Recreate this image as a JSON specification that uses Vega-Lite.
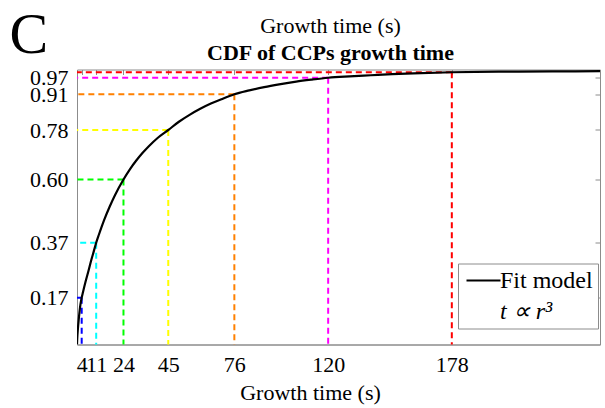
{
  "$schema": "https://vega.github.io/schema/vega-lite/v6.json",
  "width": 523,
  "height": 275,
  "autosize": "none",
  "padding": {"left": 77, "top": 69.5, "right": 5, "bottom": 63.5},
  "background": "white",
  "config": {
    "font": "'Liberation Serif', 'Times New Roman', serif",
    "view": {"stroke": "#8c8c8c", "strokeWidth": 1},
    "axis": {"labelFont": "'Liberation Serif', 'Times New Roman', serif", "titleFont": "'Liberation Serif', 'Times New Roman', serif", "labelFontSize": 22, "titleFontSize": 22, "labelColor": "black", "titleColor": "black", "titleFontWeight": "normal", "domainColor": "#8c8c8c", "tickColor": "#8c8c8c", "grid": false},
    "legend": {"labelFont": "'Liberation Serif', 'Times New Roman', serif"},
    "title": {"font": "'Liberation Serif', 'Times New Roman', serif", "subtitleFont": "'Liberation Serif', 'Times New Roman', serif"}
  },
  "title": {
    "text": "Growth time (s)",
    "subtitle": "CDF of CCPs growth time",
    "fontSize": 22,
    "fontWeight": "normal",
    "color": "black",
    "subtitleFontSize": 22,
    "subtitleFontWeight": "bold",
    "subtitleColor": "black",
    "subtitlePadding": 5,
    "anchor": "middle",
    "offset": 6,
    "dx": -8,
    "dy": 64
  },
  "resolve": {"axis": {"x": "independent", "y": "independent"}},
  "datasets": {
    "curve": [
      {"t": 2.2, "p": 0.0, "series": "Fit model"},
      {"t": 2.3, "p": 0.02, "series": "Fit model"},
      {"t": 2.6, "p": 0.055, "series": "Fit model"},
      {"t": 3.0, "p": 0.09, "series": "Fit model"},
      {"t": 3.8, "p": 0.145, "series": "Fit model"},
      {"t": 4.4, "p": 0.17, "series": "Fit model"},
      {"t": 5.0, "p": 0.19, "series": "Fit model"},
      {"t": 6.2, "p": 0.228, "series": "Fit model"},
      {"t": 7.6, "p": 0.268, "series": "Fit model"},
      {"t": 9.0, "p": 0.31, "series": "Fit model"},
      {"t": 10.0, "p": 0.337, "series": "Fit model"},
      {"t": 11.2, "p": 0.37, "series": "Fit model"},
      {"t": 12.5, "p": 0.40, "series": "Fit model"},
      {"t": 15, "p": 0.454, "series": "Fit model"},
      {"t": 17.5, "p": 0.501, "series": "Fit model"},
      {"t": 20, "p": 0.543, "series": "Fit model"},
      {"t": 24, "p": 0.60, "series": "Fit model"},
      {"t": 27, "p": 0.637, "series": "Fit model"},
      {"t": 30, "p": 0.669, "series": "Fit model"},
      {"t": 33, "p": 0.697, "series": "Fit model"},
      {"t": 36, "p": 0.722, "series": "Fit model"},
      {"t": 40, "p": 0.751, "series": "Fit model"},
      {"t": 45, "p": 0.78, "series": "Fit model"},
      {"t": 50, "p": 0.81, "series": "Fit model"},
      {"t": 55, "p": 0.835, "series": "Fit model"},
      {"t": 60, "p": 0.857, "series": "Fit model"},
      {"t": 65, "p": 0.876, "series": "Fit model"},
      {"t": 70, "p": 0.892, "series": "Fit model"},
      {"t": 76, "p": 0.91, "series": "Fit model"},
      {"t": 83, "p": 0.924, "series": "Fit model"},
      {"t": 90, "p": 0.936, "series": "Fit model"},
      {"t": 97, "p": 0.946, "series": "Fit model"},
      {"t": 105, "p": 0.956, "series": "Fit model"},
      {"t": 112, "p": 0.963, "series": "Fit model"},
      {"t": 120, "p": 0.97, "series": "Fit model"},
      {"t": 130, "p": 0.975, "series": "Fit model"},
      {"t": 140, "p": 0.979, "series": "Fit model"},
      {"t": 150, "p": 0.983, "series": "Fit model"},
      {"t": 160, "p": 0.986, "series": "Fit model"},
      {"t": 178, "p": 0.99, "series": "Fit model"},
      {"t": 200, "p": 0.992, "series": "Fit model"},
      {"t": 225, "p": 0.993, "series": "Fit model"},
      {"t": 247.5, "p": 0.994, "series": "Fit model"}
    ],
    "guides": [
      {"t": 4.4, "p": 0.17, "c": "blue"},
      {"t": 11.2, "p": 0.37, "c": "cyan"},
      {"t": 24, "p": 0.60, "c": "lime"},
      {"t": 45, "p": 0.78, "c": "yellow"},
      {"t": 76, "p": 0.91, "c": "#ff8000"},
      {"t": 120, "p": 0.97, "c": "magenta"},
      {"t": 178, "p": 0.99, "c": "red"}
    ]
  },
  "layer": [
    {
      "data": {"name": "guides"},
      "mark": {"type": "rule", "strokeDash": [6, 4], "strokeWidth": 2},
      "encoding": {
        "x": {"field": "t", "type": "quantitative", "scale": {"domain": [2.2, 247.5], "nice": false, "zero": false},
          "axis": {"orient": "bottom", "values": [4.4, 11.2, 24, 45, 76, 120, 178], "labelExpr": "format(datum.value, '.0f')", "labelOverlap": false, "labelBound": false, "labelFlush": false, "tickSize": 0, "labelPadding": 10, "title": "Growth time (s)", "titlePadding": 7, "titleX": 233}},
        "x2": {"datum": 2.2},
        "y": {"field": "p", "type": "quantitative", "scale": {"domain": [0, 1], "nice": false, "zero": true},
          "axis": {"orient": "left", "values": [0.17, 0.37, 0.6, 0.78, 0.91, 0.97], "format": ".2f", "labelOverlap": false, "labelBound": false, "labelFlush": false, "tickSize": 0, "labelPadding": 9, "title": "C", "titleFontSize": 58, "titleAngle": 0, "titleAlign": "left", "titleBaseline": "alphabetic", "titleX": -68, "titleY": -17}},
        "stroke": {"field": "c", "type": "nominal", "scale": null, "legend": null}
      }
    },
    {
      "data": {"name": "guides"},
      "mark": {"type": "rule", "strokeDash": [6, 4], "strokeWidth": 2},
      "encoding": {
        "x": {"field": "t", "type": "quantitative",
          "axis": {"orient": "top", "values": [4.4, 11.2, 24, 45, 76, 120, 178], "labels": false, "domain": false, "ticks": true, "tickSize": -5, "title": null}},
        "y": {"field": "p", "type": "quantitative",
          "axis": {"orient": "right", "values": [0.17, 0.37, 0.6, 0.78, 0.91, 0.97], "labels": false, "domain": false, "ticks": true, "tickSize": -5, "title": null}},
        "y2": {"datum": 0},
        "stroke": {"field": "c", "type": "nominal", "scale": null, "legend": null}
      }
    },
    {
      "data": {"name": "curve"},
      "mark": {"type": "line", "strokeWidth": 2.2, "clip": true, "interpolate": "monotone"},
      "encoding": {
        "x": {"field": "t", "type": "quantitative", "axis": null},
        "y": {"field": "p", "type": "quantitative", "axis": null},
        "color": {
          "field": "series", "type": "nominal",
          "scale": {"domain": ["Fit model", "t ∝ r³"], "range": ["black", "black"]},
          "legend": {
            "title": null,
            "orient": "none",
            "legendX": 381,
            "legendY": 194,
            "direction": "vertical",
            "strokeColor": "#8c8c8c",
            "fillColor": "white",
            "padding": 5,
            "symbolType": "M-1,0H3",
            "symbolSize": 289,
            "symbolStrokeWidth": 2,
            "symbolStrokeColor": "black",
            "labelFontSize": 24,
            "labelColor": "black",
            "labelOffset": 13,
            "labelLimit": 200,
            "rowPadding": 7,
            "encode": {
              "symbols": {"update": {"opacity": {"signal": "datum.label === 'Fit model' ? 1 : 0"}}},
              "labels": {"update": {"fontStyle": {"signal": "datum.label === 'Fit model' ? 'normal' : 'italic'"}}}
            }
          }
        }
      }
    }
  ]
}
